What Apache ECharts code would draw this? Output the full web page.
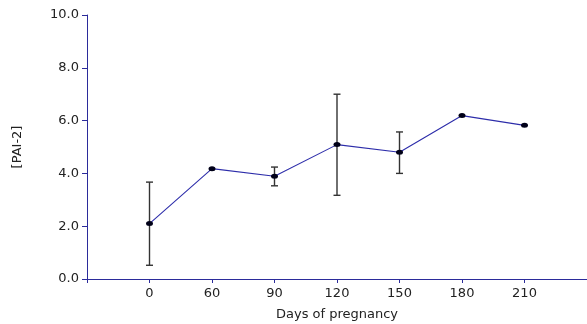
<!DOCTYPE html>
<html>
<head>
<meta charset="utf-8">
<script src="https://cdn.jsdelivr.net/npm/echarts@6/dist/echarts.min.js"></script>
<style>
  html, body { margin: 0; padding: 0; background: #fff; }
  #chart { width: 587px; height: 324px; }
</style>
</head>
<body>
<div id="chart"></div>
<script>
// days on the x axis (equally spaced categories)
const days = ["0", "60", "90", "120", "150", "180", "210"];
// mean PAI-2 per day
const meanValues = [2.1, 4.18, 3.89, 5.09, 4.8, 6.19, 5.82];
// error bar lows / highs (null = no bar)
const errLow = [0.52, null, 3.53, 3.17, 4.0, null, null];
const errHigh = [3.67, null, 4.24, 7.0, 5.57, null, null];

const axisColor = "#2b2b9b";
const textColor = "#222";

const chart = echarts.init(document.getElementById("chart"));

const lineData = meanValues.map((v, i) => [i, v]);
const errData = [];
errLow.forEach((lo, i) => {
  if (lo != null) errData.push([i, lo, errHigh[i]]);
});

const option = {
  animation: false,
  textStyle: { fontFamily: "DejaVu Sans, sans-serif" },
  grid: { left: 87, top: 15, right: 0, bottom: 45, outerBoundsMode: "none", containLabel: false },
  xAxis: {
    type: "value",
    min: -1,
    max: 7,
    interval: 1,
    name: "Days of pregnancy",
    nameLocation: "middle",
    nameGap: 29,
    nameTextStyle: { fontSize: 13, color: textColor },
    axisLine: { onZero: false, lineStyle: { color: axisColor, width: 1 } },
    axisTick: { show: true, length: 4, lineStyle: { color: axisColor } },
    axisLabel: {
      fontSize: 13,
      color: textColor,
      margin: 8,
      formatter: (v) => (days[v] !== undefined ? days[v] : ""),
    },
    splitLine: { show: false },
  },
  yAxis: {
    type: "value",
    min: 0,
    max: 10,
    interval: 2,
    name: "[PAI-2]",
    nameLocation: "middle",
    nameRotate: 90,
    nameGap: 63,
    nameTextStyle: { fontSize: 13, color: textColor },
    axisLine: { show: true, onZero: false, lineStyle: { color: axisColor, width: 1 } },
    axisTick: { show: true, length: 5, lineStyle: { color: axisColor } },
    axisLabel: {
      fontSize: 13,
      color: textColor,
      margin: 8,
      formatter: (v) => v.toFixed(1),
    },
    splitLine: { show: false },
  },
  series: [
    {
      type: "custom",
      z: 1,
      data: errData,
      renderItem: (params, api) => {
        const x = api.value(0);
        const lo = api.coord([x, api.value(1)]);
        const hi = api.coord([x, api.value(2)]);
        const cap = 3.5;
        const style = { stroke: "#333", lineWidth: 1.4 };
        return {
          type: "group",
          children: [
            { type: "line", shape: { x1: lo[0], y1: lo[1], x2: hi[0], y2: hi[1] }, style },
            { type: "line", shape: { x1: hi[0] - cap, y1: hi[1], x2: hi[0] + cap, y2: hi[1] }, style },
            { type: "line", shape: { x1: lo[0] - cap, y1: lo[1], x2: lo[0] + cap, y2: lo[1] }, style },
          ],
        };
      },
    },
    {
      type: "line",
      z: 2,
      data: lineData,
      symbol: "circle",
      symbolSize: [7, 5],
      lineStyle: { color: "#2d2daa", width: 1.1 },
      itemStyle: { color: "#000018" },
    },
  ],
};

chart.setOption(option);
</script>
</body>
</html>
